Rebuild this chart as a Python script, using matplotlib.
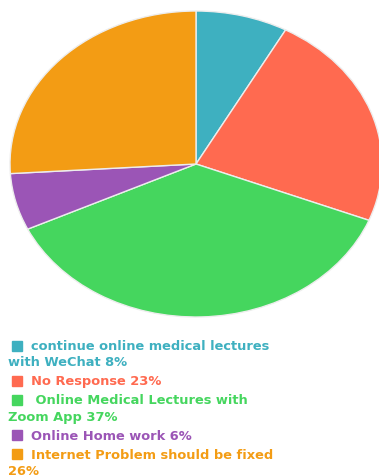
import matplotlib
matplotlib.use("Agg")
import matplotlib.pyplot as plt
from matplotlib.patches import Rectangle

# survey answers, clockwise from 12 o'clock
labels = [
    "continue online medical lectures\nwith WeChat",
    "No Response",
    " Online Medical Lectures with\nZoom App",
    "Online Home work",
    "Internet Problem should be fixed",
]
values = [8, 23, 37, 6, 26]
# the last label puts its percentage on a new line
pct_sep = [" ", " ", " ", " ", "\n"]
colors = ["#3EB0C0", "#FF6A50", "#45D65E", "#9B55B6", "#F39C14"]

W, H = 379, 477
fig = plt.figure(figsize=(W / 100, H / 100), dpi=100)

# pie axes is wider than tall, so the pie comes out as an ellipse
ax = fig.add_axes([10 / W, 1 - 318 / H, 372 / W, 306 / H])
ax.pie(values, colors=colors, startangle=90, counterclock=False,
       wedgeprops=dict(edgecolor="#EDEDED", linewidth=1.0))
ax.set_aspect("auto")
ax.set_xlim(-1, 1)
ax.set_ylim(-1, 1)

# hand-made legend with hanging indent
y = 346.5
line_h = 16.3
entry_gap = 19.0
for label, val, sep, col in zip(labels, values, pct_sep, colors):
    text = f"{label}{sep}{val}%"
    lines = text.split("\n")
    fig.patches.append(Rectangle((12 / W, 1 - (y + 5) / H), 10 / W, 10 / H,
                                 transform=fig.transFigure, color=col))
    for i, ln in enumerate(lines):
        x = 31 if i == 0 else 8
        fig.text(x / W, 1 - y / H, ln, color=col, fontsize=9.4,
                 fontweight="bold", family="DejaVu Sans", va="center", ha="left")
        if i < len(lines) - 1:
            y += line_h
    y += entry_gap

fig.savefig("out.png", dpi=100)
